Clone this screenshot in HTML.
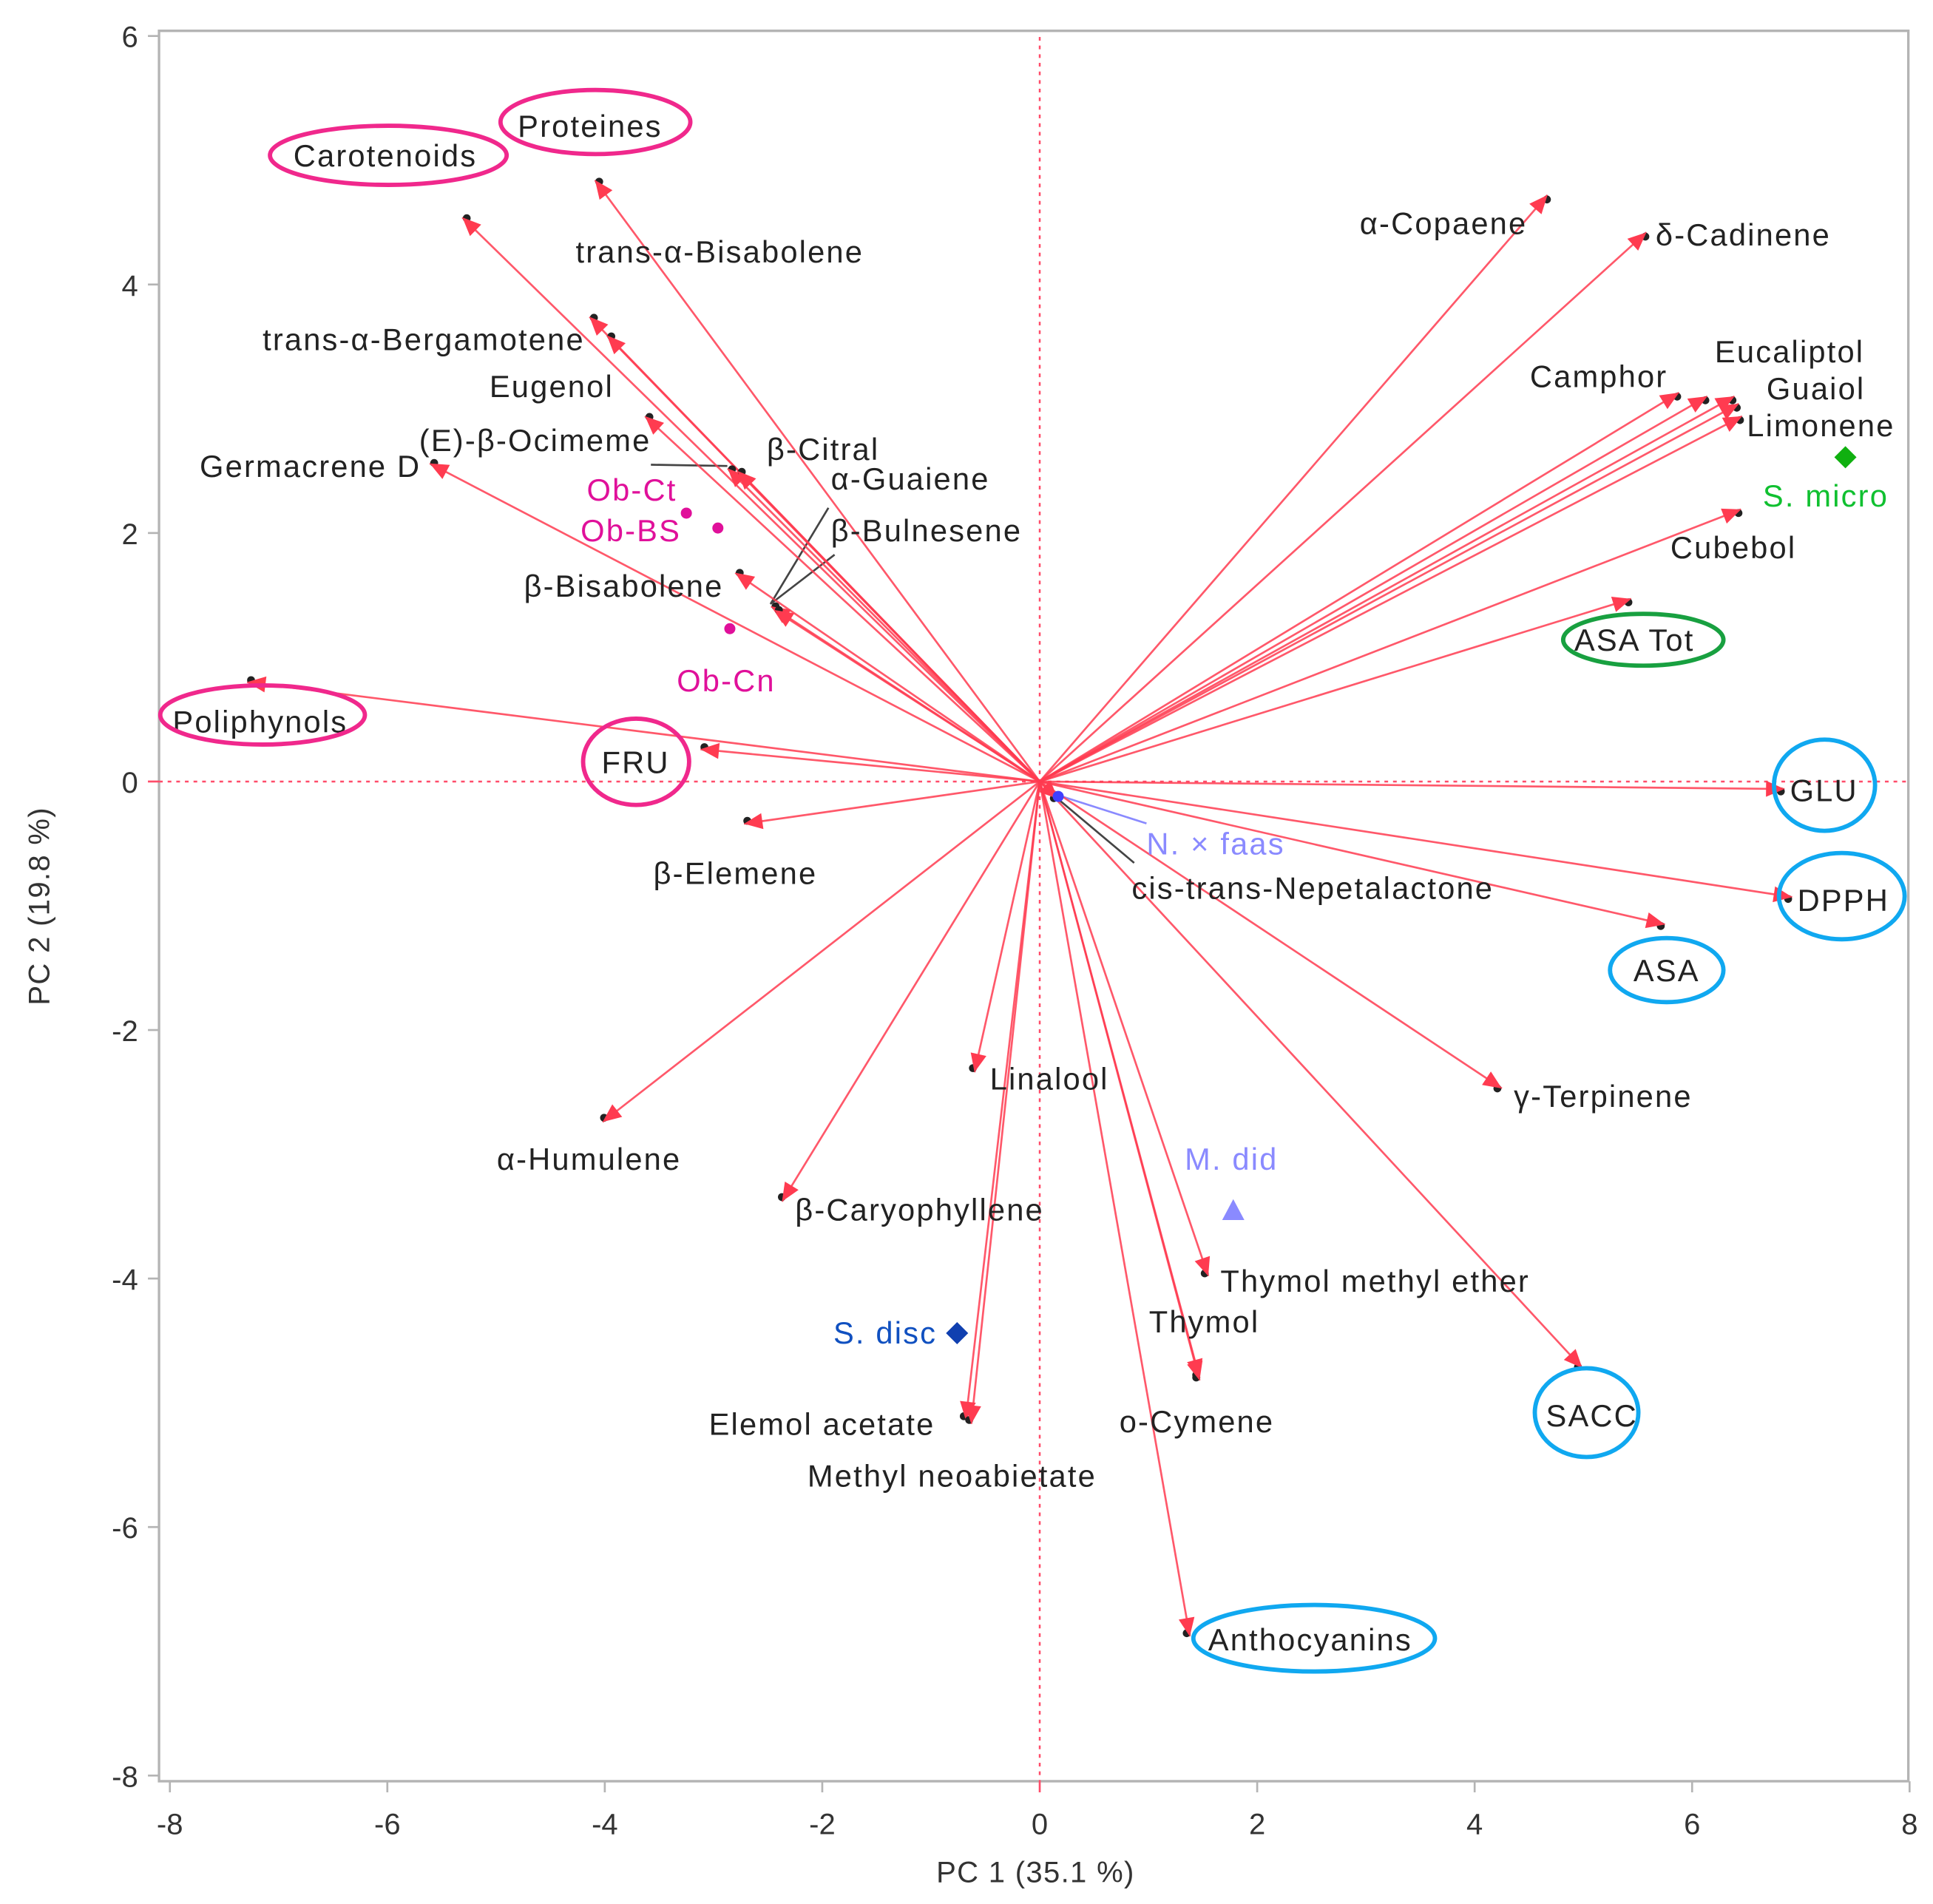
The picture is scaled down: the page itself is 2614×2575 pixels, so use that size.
<!DOCTYPE html>
<html><head><meta charset="utf-8"><style>
html,body{margin:0;padding:0;background:#fff;}
svg{display:block;}
text{font-family:"Liberation Sans",sans-serif;}
</style></head><body>
<svg id="chart" width="2614" height="2575" viewBox="0 0 1568 1544.6" preserveAspectRatio="none" xmlns="http://www.w3.org/2000/svg">
<g id="frame"></g>
<g id="refs"></g>
<g id="leaders"></g>
<g id="vectors"></g>
<g id="points"></g>
<g id="labels"></g>
<g id="ellipses"></g>
</svg>
<script>
// ---- data ----
const varNames = ["Proteines","Carotenoids","trans-α-Bisabolene","trans-α-Bergamotene","Eugenol","(E)-β-Ocimeme","β-Citral","Germacrene D","β-Bisabolene","α-Guaiene","β-Bulnesene","Poliphynols","FRU","β-Elemene","α-Humulene","β-Caryophyllene","Linalool","Elemol acetate","Methyl neoabietate","Thymol methyl ether","Thymol","o-Cymene","Anthocyanins","SACC","γ-Terpinene","ASA","DPPH","GLU","cis-trans-Nepetalactone","ASA Tot","Cubebol","Limonene","Guaiol","Eucaliptol","Camphor","Camphor-2","α-Copaene","δ-Cadinene"];
const pc1 = [-4.09,-5.31,-4.14,-3.98,-3.63,-2.87,-2.78,-5.61,-2.80,-2.47,-2.44,-7.29,-3.12,-2.72,-4.02,-2.37,-0.60,-0.68,-0.63,1.55,1.47,1.47,1.38,4.99,4.25,5.75,6.92,6.85,0.17,5.44,6.45,6.46,6.43,6.39,5.88,6.14,4.67,5.58];
const pc2 = [4.84,4.54,3.74,3.59,2.94,2.52,2.50,2.56,1.68,1.41,1.38,0.80,0.26,-0.34,-2.74,-3.38,-2.34,-5.14,-5.17,-3.98,-4.80,-4.82,-6.88,-4.72,-2.47,-1.15,-0.93,-0.06,-0.14,1.47,2.19,2.94,3.04,3.10,3.13,3.10,4.72,4.42];
const sampleNames = ["Ob-Ct","Ob-BS","Ob-Cn","S. micro","S. disc","M. did","N. × faas"];
const sampleX = [-3.25,-2.96,-2.85,7.41,-0.76,1.78,0.17];
const sampleY = [2.16,2.04,1.23,2.61,-4.44,-3.46,-0.12];
const xTicks = [-8,-6,-4,-2,0,2,4,6,8];
const yTicks = [-8,-6,-4,-2,0,2,4,6];

// ---- axes ----
const X0=843.4, XU=88.2, Y0=634.0, YU=100.8;
function sx(v){return X0+v*XU;}
function sy(v){return Y0-v*YU;}
const NS="http://www.w3.org/2000/svg";
function mk(tag,attrs,parent){const e=document.createElementNS(NS,tag);for(const k in attrs)e.setAttribute(k,attrs[k]);parent.appendChild(e);return e;}
const frame=document.getElementById('frame');
const L=129,T=25,R=1548,B=1445;
const fr=mk('path',{d:`M${L},${T}H${R}V${B}H${L}Z`,fill:'none',stroke:'#b4b4b4','stroke-width':2},frame);


xTicks.forEach(t=>{
  const x=sx(t);
  const tk=mk('line',{x1:x,x2:x,y1:B,y2:B+9,stroke:t===0?'#ff4d6a':'#b4b4b4','stroke-width':1.6},frame);
  
  
  const tx=mk('text',{x:x,y:B+43,'text-anchor':'middle','font-size':24,fill:'#333'},frame);
  tx.textContent=t;
  
  
});
yTicks.forEach(t=>{
  const y=sy(t);
  const tk=mk('line',{x1:L-9,x2:L,y1:y,y2:y,stroke:t===0?'#ff4d6a':'#b4b4b4','stroke-width':1.6},frame);
  
  
  const tx=mk('text',{x:L-17,y:y+9,'text-anchor':'end','font-size':24,fill:'#333'},frame);
  tx.textContent=t;
  
  
});
const xt=mk('text',{x:840,y:1527,'text-anchor':'middle','font-size':24,fill:'#333','letter-spacing':0.8},frame);
xt.textContent='PC 1  (35.1 %)';


const yt=mk('text',{x:0,y:0,'text-anchor':'middle','font-size':24,fill:'#333','letter-spacing':0.8,transform:'translate(40,735) rotate(-90)'},frame);
yt.textContent='PC 2  (19.8 %)';



// reference lines
const refs=document.getElementById('refs');
const rv=mk('line',{x1:sx(0),x2:sx(0),y1:T+5,y2:B,stroke:'#ff4d6a','stroke-width':1.5,'stroke-dasharray':'3,4'},refs);


const rh=mk('line',{x1:L,x2:R,y1:sy(0),y2:sy(0),stroke:'#ff4d6a','stroke-width':1.5,'stroke-dasharray':'3,4'},refs);



// leader lines
const leaders=document.getElementById('leaders');
[[528,377,590,378,'#444'],[625,490,672,412,'#444'],[625,490,677,450,'#444'],[858,648,920,700,'#444'],[858,645,930,668,'#8a8aff']].forEach(p=>{
  const l=mk('line',{x1:p[0],y1:p[1],x2:p[2],y2:p[3],stroke:p[4],'stroke-width':1.6},leaders);
  
  
});

// vectors
const vec=document.getElementById('vectors');
const RED='#ff3b50';
for(let i=0;i<varNames.length;i++){
  const x=sx(pc1[i]),y=sy(pc2[i]);
  const ox=sx(0),oy=sy(0);
  const g=mk('g',{},vec);
  
  
  mk('line',{x1:ox,y1:oy,x2:x,y2:y,stroke:RED,'stroke-width':1.6,'stroke-opacity':0.85},g);
  const dx=x-ox,dy=y-oy,len=Math.hypot(dx,dy),ux=dx/len,uy=dy/len,px=-uy,py=ux;
  const hl=15,hw=6.5;
  mk('circle',{cx:x-ux*3+px*2,cy:y-uy*3+py*2,r:3.2,fill:'#222'},g);
  mk('polygon',{points:`${x},${y} ${x-ux*hl+px*hw},${y-uy*hl+py*hw} ${x-ux*hl-px*hw},${y-uy*hl-py*hw}`,fill:RED},g);
}

// sample points
const pts=document.getElementById('points');
const sCol=['#e0109a','#e0109a','#e0109a','#10b010','#1040b0','#8a8aff','#4040ff'];
const sShape=['c','c','c','d','d','t','c'];
for(let i=0;i<sampleNames.length;i++){
  const x=sx(sampleX[i]),y=sy(sampleY[i]);let e;
  if(sShape[i]==='c') e=mk('circle',{cx:x,cy:y,r:4.5,fill:sCol[i]},pts);
  else if(sShape[i]==='d') e=mk('polygon',{points:`${x},${y-9} ${x+9},${y} ${x},${y+9} ${x-9},${y}`,fill:sCol[i]},pts);
  else e=mk('polygon',{points:`${x},${y-10} ${x+9},${y+7} ${x-9},${y+7}`,fill:sCol[i]},pts);
  
  
}

// labels (displayed-scale positions)
const lab=document.getElementById('labels');
const labs=[["Proteines",420,111,'#222'],["Carotenoids",238,135,'#222'],["trans-α-Bisabolene",467,213,'#222'],["trans-α-Bergamotene",213,284,'#222'],["Eugenol",397,322,'#222'],["(E)-β-Ocimeme",340,366,'#222'],["Germacrene D",162,387,'#222'],["β-Citral",622,373,'#222'],["α-Guaiene",674,397,'#222'],["β-Bulnesene",674,439,'#222'],["β-Bisabolene",425,484,'#222'],["Ob-Ct",476,406,'#e0109a'],["Ob-BS",471,439,'#e0109a'],["Ob-Cn",549,561,'#e0109a'],["Poliphynols",140,594,'#222'],["FRU",488,627,'#222'],["β-Elemene",530,717,'#222'],["N. × faas",930,693,'#8a8aff'],["cis-trans-Nepetalactone",918,729,'#222'],["α-Humulene",403,949,'#222'],["β-Caryophyllene",645,990,'#222'],["Linalool",803,884,'#222'],["M. did",961,949,'#8a8aff'],["Thymol methyl ether",990,1048,'#222'],["Thymol",932,1081,'#222'],["S. disc",676,1090,'#1050c0'],["Elemol acetate",575,1164,'#222'],["o-Cymene",908,1162,'#222'],["Methyl neoabietate",655,1206,'#222'],["Anthocyanins",980,1339,'#222'],["SACC",1254,1157,'#222'],["γ-Terpinene",1228,898,'#222'],["ASA",1325,796,'#222'],["DPPH",1458,739,'#222'],["GLU",1452,650,'#222'],["ASA Tot",1277,528,'#222'],["Cubebol",1355,453,'#222'],["S. micro",1430,411,'#10c030'],["Limonene",1417,354,'#222'],["Guaiol",1433,324,'#222'],["Eucaliptol",1391,294,'#222'],["Camphor",1241,314,'#222'],["α-Copaene",1103,190,'#222'],["δ-Cadinene",1343,199,'#222']];
labs.forEach(l=>{
  const t=mk('text',{x:l[1],y:l[2],'font-size':25,'letter-spacing':1.3,fill:l[3]},lab);
  t.textContent=l[0];
  
  
});

// ellipses
const ell=document.getElementById('ellipses');
[[483,99,77,26,'#f0288c'],[315,126,96,24,'#f0288c'],[213,580,83,24,'#f0288c'],[516,618,43,35,'#f0288c'],[1333,519,65,21,'#18a040'],[1480,637,41,37,'#10a8f0'],[1494,727,51,35,'#10a8f0'],[1352,787,46,26,'#10a8f0'],[1287,1146,42,36,'#10a8f0'],[1066,1329,98,27,'#10a8f0']].forEach(e=>{
  const el=mk('ellipse',{cx:e[0],cy:e[1],rx:e[2],ry:e[3],fill:'none',stroke:e[4],'stroke-width':3.5},ell);
  
  
});
</script>
</body></html>
